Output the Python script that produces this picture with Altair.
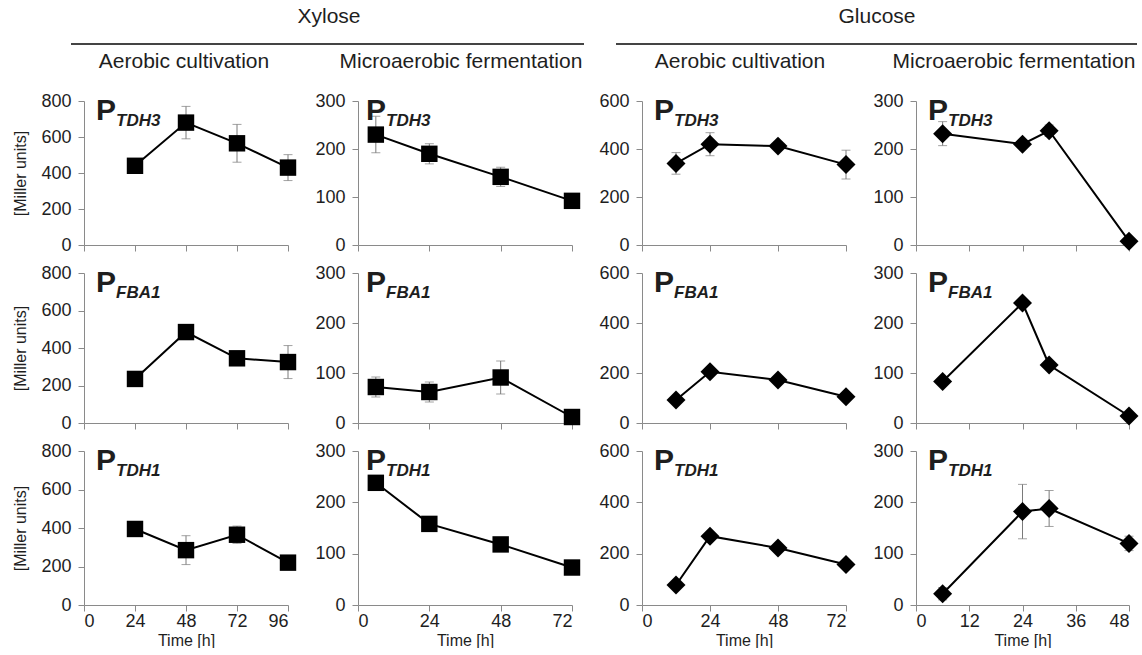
import altair as alt
import pandas as pd

FONT = "Liberation Sans"
INK = "#1e1e1e"
AXIS_GREY = "#8a8a8a"
ERR_GREY = "#7a7a7a"

promoters = ["TDH3", "FBA1", "TDH1"]
group_names = ["Xylose", "Glucose"]
phase_names = ["Aerobic cultivation", "Microaerobic fermentation"]

# Xylose, aerobic cultivation (Miller units, mean and SD)
xyl_aer_time = [24, 48, 72, 96]
xyl_aer_mean = {"TDH3": [440, 680, 565, 430], "FBA1": [235, 485, 345, 325], "TDH1": [395, 285, 365, 220]}
xyl_aer_sd = {"TDH3": [12, 90, 105, 72], "FBA1": [15, 15, 15, 88], "TDH1": [12, 75, 45, 12]}

# Xylose, microaerobic fermentation
xyl_mic_time = [6, 24, 48, 72]
xyl_mic_mean = {"TDH3": [230, 190, 142, 92], "FBA1": [72, 62, 91, 12], "TDH1": [238, 158, 118, 73]}
xyl_mic_sd = {"TDH3": [38, 21, 20, 5], "FBA1": [20, 20, 33, 4], "TDH1": [5, 5, 5, 5]}

# Glucose, aerobic cultivation
glc_aer_time = [12, 24, 48, 72]
glc_aer_mean = {"TDH3": [340, 420, 412, 335], "FBA1": [92, 205, 172, 105], "TDH1": [78, 268, 222, 158]}
glc_aer_sd = {"TDH3": [45, 48, 12, 60], "FBA1": [10, 12, 12, 10], "TDH1": [8, 12, 12, 10]}

# Glucose, microaerobic fermentation
glc_mic_time = [6, 24, 30, 48]
glc_mic_mean = {"TDH3": [232, 210, 238, 8], "FBA1": [83, 240, 116, 14], "TDH1": [22, 182, 188, 120]}
glc_mic_sd = {"TDH3": [25, 6, 12, 3], "FBA1": [5, 6, 6, 3], "TDH1": [12, 53, 35, 14]}

conditions = [
    dict(time=xyl_aer_time, mean=xyl_aer_mean, sd=xyl_aer_sd, xmax=96, xstep=24, ymax=800, ystep=200,
         shape="square", size=270, width=204, plabel=12),
    dict(time=xyl_mic_time, mean=xyl_mic_mean, sd=xyl_mic_sd, xmax=72, xstep=24, ymax=300, ystep=100,
         shape="square", size=270, width=214, plabel=8),
    dict(time=glc_aer_time, mean=glc_aer_mean, sd=glc_aer_sd, xmax=72, xstep=24, ymax=600, ystep=200,
         shape="diamond", size=360, width=204, plabel=12),
    dict(time=glc_mic_time, mean=glc_mic_mean, sd=glc_mic_sd, xmax=48, xstep=12, ymax=300, ystep=100,
         shape="diamond", size=360, width=213, plabel=12),
]

ROW_H = [144, 150, 154]
COL_GAP = 70
ROW_GAP = 28
HEAD_SIZE = 21


def text_layer(label, x, y, size, weight="normal", style="normal", align="center", baseline="middle"):
    return alt.Chart(pd.DataFrame({"s": [label]})).mark_text(
        font=FONT, fontSize=size, fontWeight=weight, fontStyle=style, color=INK,
        align=align, baseline=baseline,
    ).encode(x=alt.value(x), y=alt.value(y), text="s:N")


def rule_layer(x1, x2, y):
    return alt.Chart(pd.DataFrame({"s": [0]})).mark_rule(color="#444444", strokeWidth=2).encode(
        x=alt.value(x1), x2=alt.value(x2), y=alt.value(y)
    )


def header_layers(col):
    # group titles with underline and phase titles above the first row
    layers = []
    if col == 0:
        layers += [text_layer(group_names[0], 245, -84, HEAD_SIZE), rule_layer(-13, 500, -57)]
        layers += [text_layer(phase_names[0], 100, -39, HEAD_SIZE)]
    elif col == 1:
        layers += [text_layer(phase_names[1], 103, -39, HEAD_SIZE)]
    elif col == 2:
        layers += [text_layer(group_names[1], 235, -84, HEAD_SIZE), rule_layer(-26, 495, -57)]
        layers += [text_layer(phase_names[0], 98, -39, HEAD_SIZE)]
    else:
        layers += [text_layer(phase_names[1], 98, -39, HEAD_SIZE)]
    return layers


def make_panel(col, row):
    c = conditions[col]
    p = promoters[row]
    means = c["mean"][p]
    sds = c["sd"][p]
    df = pd.DataFrame({
        "t": c["time"],
        "v": means,
        "lo": [m - s for m, s in zip(means, sds)],
        "hi": [m + s for m, s in zip(means, sds)],
    })
    caps = pd.DataFrame({
        "t": c["time"] * 2,
        "c": [m - s for m, s in zip(means, sds)] + [m + s for m, s in zip(means, sds)],
    })
    bottom = row == 2
    xaxis_kw = dict(values=list(range(0, c["xmax"] + 1, c["xstep"])), labels=bottom,
                    title="Time [h]" if bottom else None)
    yaxis_kw = dict(values=list(range(0, c["ymax"] + 1, c["ystep"])),
                    title="[Miller units]" if col == 0 else None)
    xs = alt.Scale(domain=[0, c["xmax"]], nice=False)
    ys = alt.Scale(domain=[0, c["ymax"]], nice=False)
    x = alt.X("t:Q", scale=xs, axis=alt.Axis(**xaxis_kw))
    y = alt.Y("v:Q", scale=ys, axis=alt.Axis(**yaxis_kw))

    base = alt.Chart(df)
    err = base.mark_rule(color=ERR_GREY, strokeWidth=1).encode(
        x=x, y=alt.Y("lo:Q", scale=ys, axis=alt.Axis(**yaxis_kw)), y2="hi:Q")
    cap = alt.Chart(caps).mark_tick(color=ERR_GREY, orient="horizontal", size=9, thickness=1).encode(
        x=x, y=alt.Y("c:Q", scale=ys, axis=alt.Axis(**yaxis_kw)))
    line = base.mark_line(color="black", strokeWidth=2).encode(x=x, y=y)
    pts = base.mark_point(shape=c["shape"], size=c["size"], filled=True, color="black", opacity=1).encode(x=x, y=y)

    lab_p = text_layer("P", c["plabel"], 19, 30, weight="bold", align="left", baseline="alphabetic")
    lab_sub = text_layer(p, c["plabel"] + 20, 25, 17, weight="bold", style="italic",
                         align="left", baseline="alphabetic")

    layers = [err, cap, line, pts, lab_p, lab_sub]
    if row == 0:
        layers += header_layers(col)
    return alt.layer(*layers).properties(width=c["width"], height=ROW_H[row])


panels = [make_panel(col, row) for row in range(3) for col in range(4)]

chart = alt.concat(
    *panels, columns=4, spacing=alt.RowColnumber(row=ROW_GAP, column=COL_GAP),
    bounds="flush", align="each",
).properties(
    padding={"left": 12, "top": 6, "right": 0, "bottom": 0},
).configure_view(
    stroke=None,
).configure_axis(
    grid=False,
    domainColor=AXIS_GREY,
    tickColor=AXIS_GREY,
    tickSize=6,
    labelFont=FONT,
    labelFontSize=18,
    labelColor=INK,
    titleFont=FONT,
    titleFontSize=16,
    titleFontWeight="normal",
    titleColor=INK,
).configure_axisX(
    titlePadding=2,
    labelPadding=1,
).configure_axisY(
    titlePadding=12,
    labelPadding=7,
)

chart.save("out.html", embed_options={"renderer": "svg", "actions": False})
